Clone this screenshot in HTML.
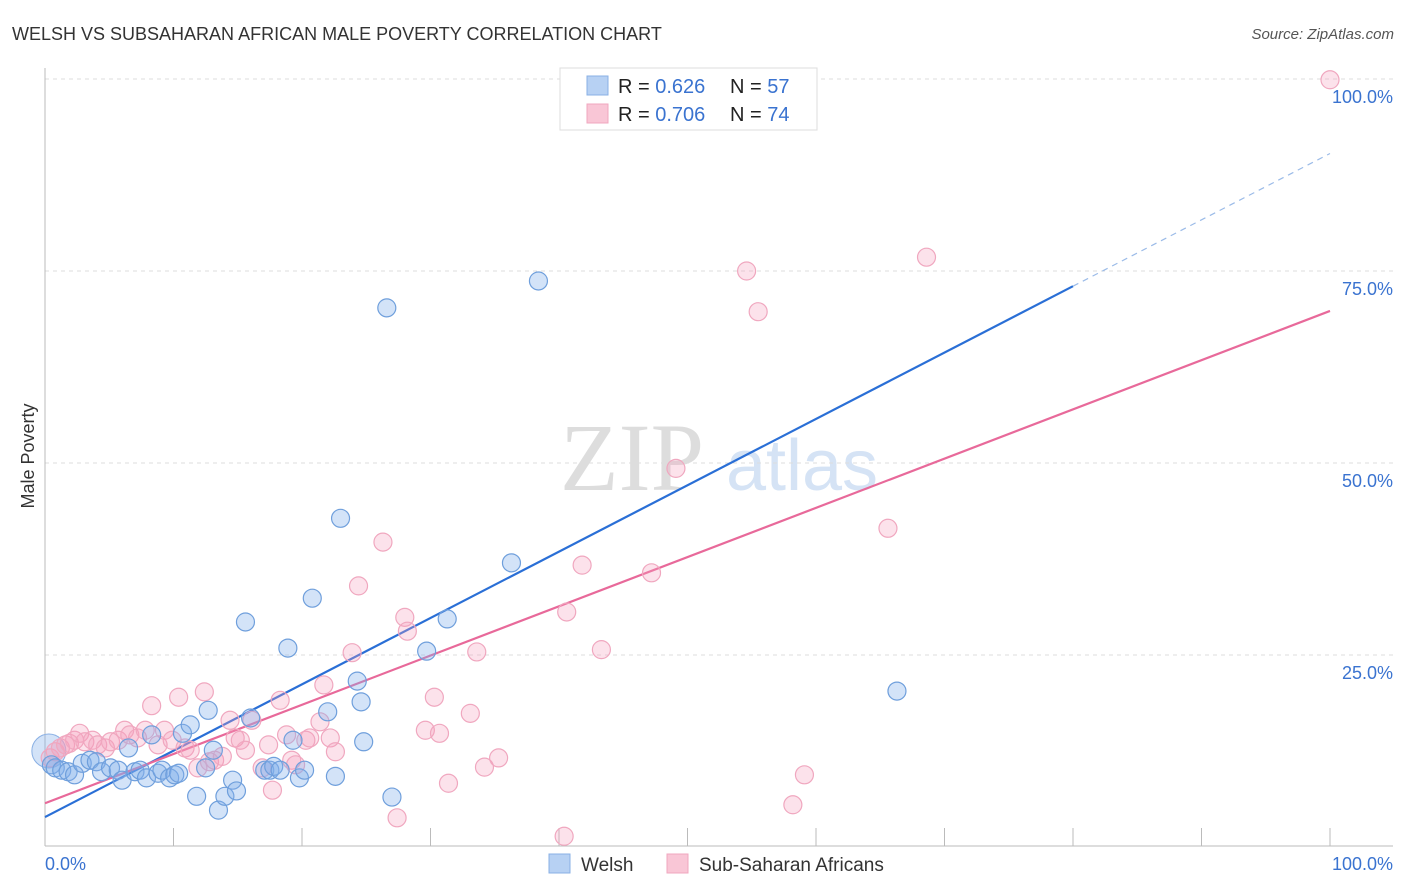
<!DOCTYPE html>
<html><head><meta charset="utf-8">
<style>
body{margin:0;background:#fff;font-family:"Liberation Sans",sans-serif;}
svg{display:block}
</style></head>
<body>
<svg id="chart" width="1406" height="892">
<text x="12" y="40" font-size="18" fill="#333">WELSH VS SUBSAHARAN AFRICAN MALE POVERTY CORRELATION CHART</text>
<text x="1394" y="39" font-size="15" fill="#555" font-style="italic" text-anchor="end">Source: ZipAtlas.com</text>
<text x="34" y="456" font-size="18" fill="#333" text-anchor="middle" transform="rotate(-90 34 456)">Male Poverty</text>
<g>
<text x="632" y="490" font-size="96" fill="#ddd" font-family="Liberation Serif,serif" text-anchor="middle">ZIP</text>
<text x="802" y="490" font-size="72" fill="#d5e3f5" text-anchor="middle">atlas</text>
</g>
<g id="grid"></g>
<g id="axes"></g>
<g id="lines"></g>
<g id="points"></g>
<g>
<rect x="560" y="68" width="257" height="62" fill="#fff" stroke="#ddd"/>
<rect x="587" y="76" width="21" height="19" fill="#b7d1f3" stroke="#8ab0e4"/>
<rect x="587" y="104" width="21" height="19" fill="#f9c6d6" stroke="#f0a7bf"/>
<text x="618" y="93" font-size="20" fill="#222">R = <tspan fill="#3a73d0">0.626</tspan></text>
<text x="730" y="93" font-size="20" fill="#222">N = <tspan fill="#3a73d0">57</tspan></text>
<text x="618" y="121" font-size="20" fill="#222">R = <tspan fill="#3a73d0">0.706</tspan></text>
<text x="730" y="121" font-size="20" fill="#222">N = <tspan fill="#3a73d0">74</tspan></text>
</g>
<g>
<rect x="549" y="854" width="21" height="19" fill="#b7d1f3" stroke="#8ab0e4"/>
<text x="581" y="871" font-size="19" fill="#333">Welsh</text>
<rect x="667" y="854" width="21" height="19" fill="#f9c6d6" stroke="#f0a7bf"/>
<text x="699" y="871" font-size="19" fill="#333">Sub-Saharan Africans</text>
</g>
</svg>
<script>
const yTicks=[25,50,75,100];
const yTickLabels=["25.0%","50.0%","75.0%","100.0%"];
const xTicks=[0,10,20,30,40,50,60,70,80,90,100];
const welshX=[0.5,0.8,1.3,1.8,2.3,2.9,3.5,4.0,4.4,5.1,5.7,6.0,6.5,7.0,7.4,7.9,8.3,8.8,9.1,9.7,10.1,10.4,10.7,11.3,11.8,12.5,12.7,13.1,13.5,14.0,14.6,14.9,15.6,16.0,17.1,17.5,17.8,18.3,18.9,19.3,19.8,20.2,20.8,22.0,22.6,23.0,24.3,24.6,24.8,26.6,27.0,29.7,31.3,36.3,38.4,54.2,66.3];
const welshY=[10.7,10.3,10.0,9.8,9.4,10.9,11.3,11.1,9.8,10.3,10.0,8.7,12.9,9.8,10.0,9.0,14.6,9.6,10.0,9.0,9.4,9.6,14.8,15.9,6.6,10.3,17.8,12.6,4.8,6.6,8.7,7.3,29.3,16.8,10.0,10.0,10.5,10.0,25.9,13.9,9.0,10.0,32.4,17.6,9.2,42.8,21.6,18.9,13.7,70.2,6.5,25.5,29.7,37.0,73.7,99.9,20.3];
const subX=[0.4,0.8,1.2,1.6,1.9,2.3,2.7,3.1,3.7,4.1,4.7,5.1,5.7,6.2,6.6,7.2,7.8,8.3,8.8,9.3,9.9,10.4,10.9,11.3,11.9,12.4,12.8,13.2,13.8,14.4,14.8,15.2,15.6,16.1,16.9,17.4,17.7,18.3,18.8,19.2,19.5,20.3,20.6,21.4,21.7,22.2,22.6,23.9,24.4,26.3,27.4,28.0,28.2,29.6,30.3,30.7,31.4,33.1,33.6,34.2,35.3,40.4,40.6,41.8,43.3,47.2,49.1,54.6,55.5,58.2,59.1,65.6,68.6,100];
const subY=[11.6,12.4,12.9,13.3,13.5,13.9,14.8,13.7,13.9,13.3,12.9,13.7,13.9,15.2,14.6,14.2,15.2,18.4,13.3,15.2,13.9,19.5,12.9,12.6,10.3,20.2,11.1,11.3,11.8,16.5,14.2,13.9,12.6,16.5,10.3,13.3,7.4,19.1,14.6,11.3,10.7,13.9,14.2,16.3,21.1,14.2,12.4,25.3,34.0,39.7,3.8,29.9,28.1,15.2,19.5,14.8,8.3,17.4,25.4,10.4,11.6,1.4,30.6,36.7,25.7,35.7,49.3,75.0,69.7,5.5,9.4,41.5,76.8,99.9];
const welshLine=[3.9,90.3]; // y at x=0 and x=100
const subLine=[5.7,69.8];

const X=v=>45+v*12.85, Y=v=>847-v*7.68;
const NS="http://www.w3.org/2000/svg";
function mk(tag,attrs,parent){const e=document.createElementNS(NS,tag);for(const k in attrs)e.setAttribute(k,attrs[k]);document.getElementById(parent).appendChild(e);return e;}
yTicks.forEach((t,i)=>{
  const g=mk('line',{x1:45,x2:1393,y1:Y(t),y2:Y(t),stroke:'#ddd','stroke-dasharray':'4,4'},'grid');
  
  
  const l=mk('text',{x:1393,y:Y(t)+24,'font-size':18,fill:'#3a73d0','text-anchor':'end'},'grid');
  l.textContent=yTickLabels[i];
  
  
});
const ax=mk('line',{x1:45,x2:45,y1:68,y2:846,stroke:'#bbb'},'axes');


const bx=mk('line',{x1:45,x2:1393,y1:846,y2:846,stroke:'#bbb'},'axes');


xTicks.forEach(t=>{
  const k=mk('line',{x1:X(t),x2:X(t),y1:828,y2:846,stroke:'#bbb'},'axes');
  
  
});
const x0=mk('text',{x:45,y:870,'font-size':18,fill:'#3a73d0'},'axes');x0.textContent='0.0%';


const x1=mk('text',{x:1393,y:870,'font-size':18,fill:'#3a73d0','text-anchor':'end'},'axes');x1.textContent='100.0%';



const yAt=(ln,x)=>ln[0]+(ln[1]-ln[0])*x/100;
let e=mk('line',{x1:X(0),y1:Y(yAt(welshLine,0)),x2:X(80),y2:Y(yAt(welshLine,80)),stroke:'#2a6fd6','stroke-width':2.2},'lines');


e=mk('line',{x1:X(80),y1:Y(yAt(welshLine,80)),x2:X(100),y2:Y(yAt(welshLine,100)),stroke:'#9bbbe8','stroke-width':1.2,'stroke-dasharray':'6,5'},'lines');


e=mk('line',{x1:X(0),y1:Y(yAt(subLine,0)),x2:X(100),y2:Y(yAt(subLine,100)),stroke:'#e8699a','stroke-width':2.2},'lines');



const big=mk('circle',{cx:X(0.3),cy:Y(12.5),r:17,fill:'rgba(130,175,235,0.35)',stroke:'#8ab0e4'},'points');


subX.forEach((x,i)=>{
  const c=mk('circle',{cx:X(x),cy:Y(subY[i]),r:9,fill:'rgba(245,160,190,0.3)',stroke:'#f0a7bf','stroke-width':1.2},'points');
  
  
});
welshX.forEach((x,i)=>{
  const c=mk('circle',{cx:X(x),cy:Y(welshY[i]),r:9,fill:'rgba(130,175,235,0.35)',stroke:'#6f9fdc','stroke-width':1.2},'points');
  
  
});
</script>
</body></html>
